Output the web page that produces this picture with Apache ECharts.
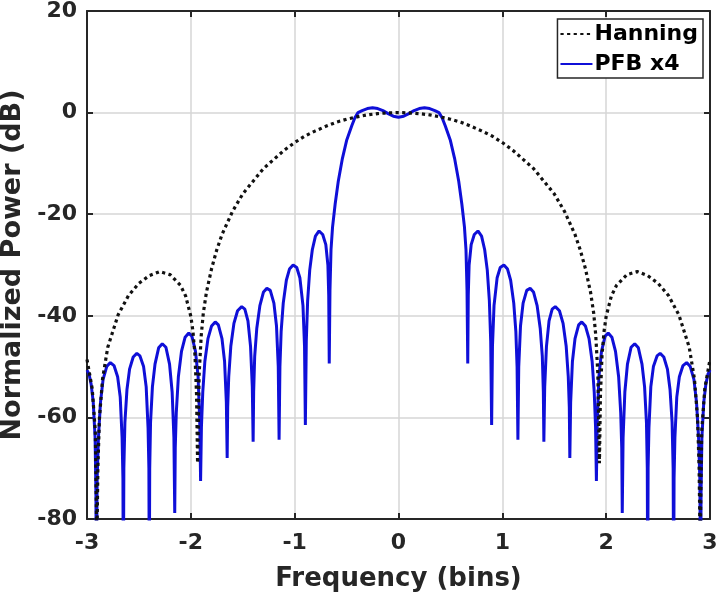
<!DOCTYPE html>
<html>
<head>
<meta charset="utf-8">
<script src="https://cdn.jsdelivr.net/npm/echarts@6/dist/echarts.min.js"></script>
<style>
  html, body { margin: 0; padding: 0; background: #fff; }
  #chart { width: 720px; height: 592px; }
</style>
</head>
<body>
<div id="chart"></div>
<script>
// right half only (the response is symmetric about 0)
const hannFreq = [0, 0.1, 0.2, 0.3, 0.4, 0.5, 0.6, 0.7, 0.8, 0.9, 1.0, 1.1, 1.2, 1.3, 1.4, 1.5, 1.6, 1.7, 1.75, 1.8,
  1.85, 1.88, 1.9, 1.92, 1.935, 1.945, 1.96, 1.98, 2.0, 2.05, 2.1, 2.2, 2.3, 2.4, 2.5, 2.6, 2.7, 2.8, 2.85, 2.88,
  2.895, 2.905, 2.92, 2.95, 3.0];
const hannDb = [0, -0.05, -0.2, -0.45, -0.85, -1.3, -1.9, -2.7, -3.6, -4.6, -5.9, -7.4, -9.2, -11.0, -13.5, -16.0, -19.5, -24, -27, -30.7,
  -35.4, -39.5, -43.9, -51.5, -69, -55.5, -47.8, -43.0, -40.1, -36.1, -34.0, -31.9, -31.3, -32.1, -33.6, -36.0, -39.8, -46.2, -52.4, -60.1,
  -69.7, -85, -62.7, -54.3, -48.6];

const pfbFreq = [0, 0.05, 0.1, 0.15, 0.2, 0.25, 0.3, 0.35, 0.39, 0.42, 0.45, 0.5, 0.54, 0.58, 0.61, 0.635, 0.65, 0.66, 0.667,
  0.672, 0.68, 0.7, 0.73, 0.765, 0.8, 0.83, 0.855, 0.875, 0.888, 0.897,
  0.905, 0.92, 0.95, 0.98, 1.015, 1.05, 1.08, 1.11, 1.13, 1.142, 1.15,
  1.158, 1.175, 1.2, 1.235, 1.268, 1.3, 1.335, 1.365, 1.385, 1.395, 1.4,
  1.408, 1.425, 1.45, 1.48, 1.51, 1.55, 1.585, 1.615, 1.635, 1.645, 1.65,
  1.658, 1.675, 1.7, 1.735, 1.765, 1.8, 1.835, 1.865, 1.885, 1.898, 1.906,
  1.914, 1.93, 1.955, 1.99, 2.02, 2.055, 2.09, 2.12, 2.14, 2.15, 2.155,
  2.163, 2.18, 2.205, 2.24, 2.275, 2.31, 2.345, 2.37, 2.388, 2.396, 2.4,
  2.404, 2.412, 2.43, 2.455, 2.49, 2.52, 2.555, 2.59, 2.615, 2.635, 2.645, 2.65,
  2.654, 2.662, 2.68, 2.705, 2.74, 2.775, 2.81, 2.845, 2.87, 2.89, 2.902, 2.91,
  2.914, 2.922, 2.94, 2.96, 2.98, 3.0];
const pfbDb = [-0.9, -0.7, -0.2, 0.4, 0.8, 0.95, 0.8, 0.4, 0, -1.0, -2.6, -5.5, -9.0, -13.5, -18, -22.5, -27, -35, -49.4,
  -36, -30, -26, -24, -23.3, -24.3, -27, -31, -37, -45, -61.5,
  -46, -38, -32.5, -30.5, -30, -30.8, -33, -37.5, -43, -50, -64.4,
  -50, -42, -37.5, -35, -34.6, -35.3, -38, -42.5, -48, -55, -64.8,
  -54, -46, -41, -38.7, -38.2, -39, -41.5, -46, -52, -58, -68,
  -57, -49, -44.5, -41.8, -41.2, -42, -44.5, -49, -55, -62, -72.5,
  -61, -52, -47, -44, -43.4, -44.2, -47, -52, -59, -66, -78.8,
  -64, -55, -49.5, -46.2, -45.5, -46.3, -49.5, -54, -61, -70, -95,
  -70, -62, -54, -50, -47.9, -47.4, -48.1, -50.5, -54.5, -61, -70, -95,
  -72, -64, -56, -52, -49.8, -49.2, -50, -52.5, -57, -64, -72, -95,
  -75, -64, -57, -53.5, -51.5, -50.7];

const xTicks = [-3, -2, -1, 0, 1, 2, 3];
const yTicks = [-80, -60, -40, -20, 0, 20];

// mirror the half curve onto negative frequencies
function fullCurve(freq, db) {
  const pts = [];
  for (let i = freq.length - 1; i > 0; i--) pts.push([-freq[i], db[i]]);
  for (let i = 0; i < freq.length; i++) pts.push([freq[i], db[i]]);
  return pts;
}

const chart = echarts.init(document.getElementById('chart'));
const font = 'DejaVu Sans';
const labelStyle = { fontFamily: font, fontWeight: 'bold', fontSize: 22, color: '#262626' };
const frameLine = { show: true, onZero: false, lineStyle: { color: '#262626', width: 2 } };
const frameTick = { show: true, inside: true, length: 6, lineStyle: { color: '#262626', width: 2 } };

const option = {
  animation: false,
  backgroundColor: '#fff',
  grid: { left: 87, right: 10, top: 11, bottom: 73, containLabel: false, outerBoundsMode: 'none' },
  legend: {
    orient: 'vertical',
    right: 17,
    top: 19,
    backgroundColor: '#fff',
    borderColor: '#262626',
    borderWidth: 1.5,
    borderRadius: 0,
    padding: [4, 5, 3, 2],
    itemWidth: 32,
    itemHeight: 14,
    itemGap: 8,
    itemStyle: { opacity: 0 },
    textStyle: { fontFamily: font, fontWeight: 'bold', fontSize: 22, color: '#000', padding: [0, 0, 0, -3] },
    data: ['Hanning', 'PFB x4']
  },
  xAxis: [{
    type: 'value', min: xTicks[0], max: xTicks[xTicks.length - 1], interval: 1,
    name: 'Frequency (bins)', nameLocation: 'middle', nameGap: 47,
    nameTextStyle: { fontFamily: font, fontWeight: 'bold', fontSize: 26, color: '#262626' },
    axisLine: frameLine,
    axisTick: frameTick,
    axisLabel: Object.assign({ margin: 13 }, labelStyle),
    splitLine: { show: true, lineStyle: { color: '#d6d6d6', width: 1.5 } }
  }, {
    type: 'value', position: 'top', min: xTicks[0], max: xTicks[xTicks.length - 1], interval: 1,
    axisLine: frameLine,
    axisTick: frameTick,
    axisLabel: { show: false },
    splitLine: { show: false }
  }],
  yAxis: [{
    type: 'value', min: yTicks[0], max: yTicks[yTicks.length - 1], interval: 20,
    name: 'Normalized Power (dB)', nameLocation: 'middle', nameGap: 59,
    nameTextStyle: { fontFamily: font, fontWeight: 'bold', fontSize: 27, color: '#262626' },
    axisLine: frameLine,
    axisTick: frameTick,
    axisLabel: Object.assign({ margin: 10 }, labelStyle),
    splitLine: { show: true, lineStyle: { color: '#d6d6d6', width: 1.5 } }
  }, {
    type: 'value', position: 'right', min: yTicks[0], max: yTicks[yTicks.length - 1], interval: 20,
    axisLine: frameLine,
    axisTick: frameTick,
    axisLabel: { show: false },
    splitLine: { show: false }
  }],
  series: [{
    name: 'Hanning',
    type: 'line',
    data: fullCurve(hannFreq, hannDb),
    symbol: 'none',
    clip: true,
    z: 3,
    lineStyle: { color: '#111', width: 3.2, type: [3.2, 3.4] },
    itemStyle: { color: '#111' }
  }, {
    name: 'PFB x4',
    type: 'line',
    data: fullCurve(pfbFreq, pfbDb),
    symbol: 'none',
    clip: true,
    z: 2,
    lineStyle: { color: '#0f0fd8', width: 3 },
    itemStyle: { color: '#0f0fd8' }
  }]
};

chart.setOption(option);
window.onresize = chart.resize;
</script>
</body>
</html>
